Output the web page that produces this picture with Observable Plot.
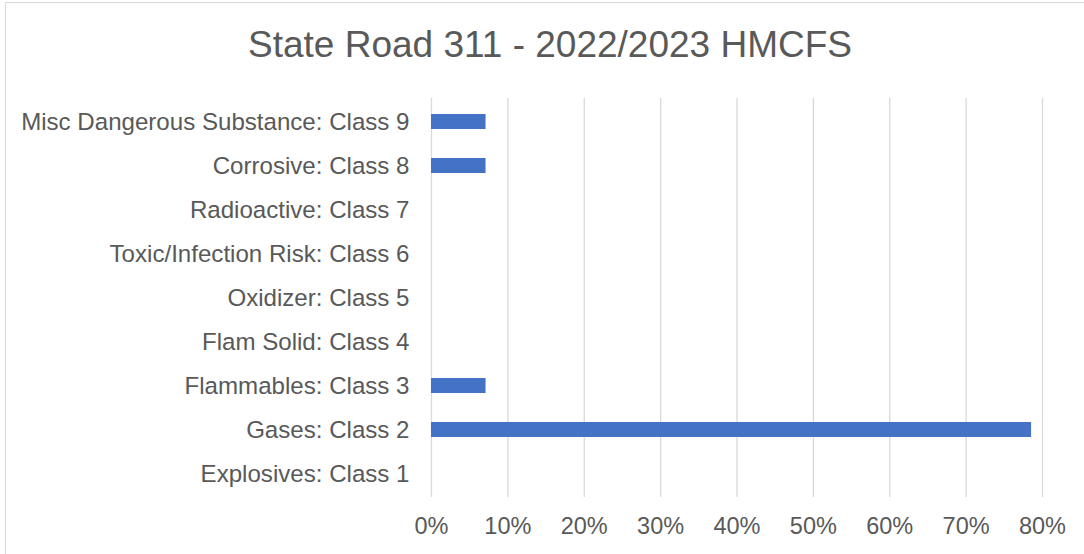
<!DOCTYPE html>
<html>
<head>
<meta charset="utf-8">
<script src="https://cdn.jsdelivr.net/npm/d3@7"></script>
<script src="https://cdn.jsdelivr.net/npm/@observablehq/plot@0.6"></script>
<style>
  html, body { margin: 0; padding: 0; background: #fff; }
  #wrap { position: relative; width: 1084px; height: 554px; overflow: hidden; font-family: "Liberation Sans", Arial, sans-serif; }
  #frame { position: absolute; left: 5px; top: 2px; width: 1090px; height: 560px; border: 1px solid #d9d9d9; box-sizing: border-box; }
  #title { position: absolute; left: 0; top: 23px; width: 1100px; text-align: center; font-size: 37px; color: #595959; line-height: 43px; }
  #chart { position: absolute; left: 0; top: 0; }
</style>
</head>
<body>
<div id="wrap">
  <div id="frame"></div>
  <div id="title">State Road 311 - 2022/2023 HMCFS</div>
  <div id="chart"></div>
</div>
<script>
const categories = [
  "Explosives: Class 1",
  "Gases: Class 2",
  "Flammables: Class 3",
  "Flam Solid: Class 4",
  "Oxidizer: Class 5",
  "Toxic/Infection Risk: Class 6",
  "Radioactive: Class 7",
  "Corrosive: Class 8",
  "Misc Dangerous Substance: Class 9"
];
const shares = [0, 0.7857, 0.0714, 0, 0, 0, 0, 0.0714, 0.0714];
const xTicks = [0, 0.1, 0.2, 0.3, 0.4, 0.5, 0.6, 0.7, 0.8];

const data = categories.map((c, i) => ({category: c, share: shares[i]}));
const order = categories.slice().reverse();
const pct = d => Math.round(d * 100) + "%";

const chart = Plot.plot({
  width: 1084,
  height: 554,
  marginTop: 98,
  marginBottom: 57,
  marginLeft: 431,
  marginRight: 42,
  style: {fontFamily: "'Liberation Sans', Arial, sans-serif", fontSize: "23.5px", color: "#595959", background: "transparent", overflow: "visible"},
  x: {domain: [0, 0.8], ticks: xTicks, tickFormat: pct, label: null},
  y: {domain: order, paddingInner: 0.66, paddingOuter: 0.33, label: null},
  marks: [
    Plot.ruleX(xTicks, {stroke: "#d9d9d9", strokeWidth: 1.3}),
    Plot.barX(data, {x: "share", y: "category", fill: "#4472c4"}),
    Plot.axisX({ticks: xTicks, tickFormat: pct, tickSize: 0, tickPadding: 20, fill: "#595959", fontSize: 23.5, label: null}),
    Plot.axisY({tickSize: 0, tickPadding: 22, fill: "#595959", fontSize: 24.1, label: null})
  ]
});
document.getElementById("chart").appendChild(chart);
</script>
</body>
</html>
